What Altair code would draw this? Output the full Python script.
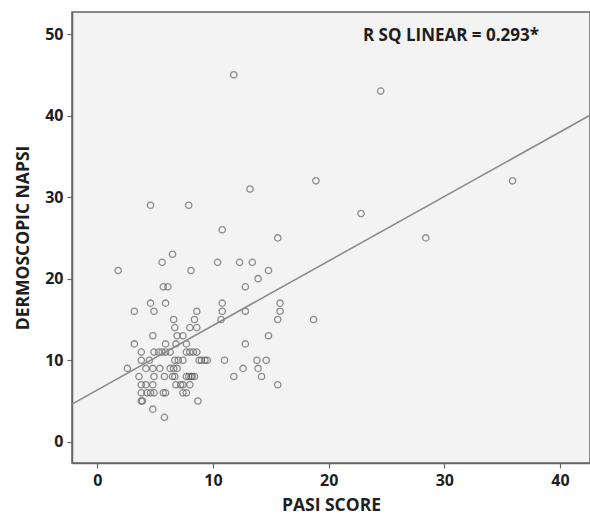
import altair as alt
import pandas as pd

pasi = [11.8, 24.5, 18.9, 13.2, 35.9, 4.6, 7.9, 22.8, 10.8, 15.6, 28.4, 6.5, 5.6, 10.4, 12.3, 13.4,
        1.8, 8.1, 14.8, 13.9, 5.7, 6.1, 12.8, 4.6, 5.9, 10.8, 15.8, 3.2, 4.9, 8.6, 10.8, 12.8, 15.8,
        6.6, 8.4, 10.7, 15.6, 18.7, 6.7, 8.0, 8.6, 4.8, 6.9, 7.4, 14.8, 3.2, 5.9, 6.8, 7.7, 12.8,
        3.8, 4.9, 5.3, 5.6, 5.9, 6.3, 7.7, 8.0, 8.3, 8.6,
        3.8, 4.5, 6.7, 7.0, 7.4, 8.8, 9.0, 9.3, 9.5, 11.0, 13.8, 14.6,
        2.6, 4.2, 4.8, 5.4, 6.3, 6.6, 6.9, 12.6, 13.9,
        3.6, 4.9, 5.8, 6.5, 6.7, 7.7, 7.9, 8.1, 8.2, 8.4, 11.8, 14.2,
        3.8, 4.2, 4.8, 6.8, 7.2, 7.4, 8.0, 15.6,
        3.8, 4.3, 4.6, 4.9, 5.7, 5.9, 7.4, 7.7,
        3.8, 3.9, 8.7,
        4.8,
        5.8]
napsi = [45, 43, 32, 31, 32, 29, 29, 28, 26, 25, 25, 23, 22, 22, 22, 22,
         21, 21, 21, 20, 19, 19, 19, 17, 17, 17, 17, 16, 16, 16, 16, 16, 16,
         15, 15, 15, 15, 15, 14, 14, 14, 13, 13, 13, 13, 12, 12, 12, 12, 12,
         11, 11, 11, 11, 11, 11, 11, 11, 11, 11,
         10, 10, 10, 10, 10, 10, 10, 10, 10, 10, 10, 10,
         9, 9, 9, 9, 9, 9, 9, 9, 9,
         8, 8, 8, 8, 8, 8, 8, 8, 8, 8, 8, 8,
         7, 7, 7, 7, 7, 7, 7, 7,
         6, 6, 6, 6, 6, 6, 6, 6,
         5, 5, 5,
         4,
         3]
x_ticks = [0, 10, 20, 30, 40]
y_ticks = [0, 10, 20, 30, 40, 50]
annotation = ["R SQ LINEAR = 0.293*"]

df = pd.DataFrame({"pasi": pasi, "napsi": napsi})

FONT = "Open Sans"
xdom = [-2.19, 42.6]
ydom = [-2.6, 52.7]

xs = alt.Scale(domain=xdom, nice=False, zero=False)
ys = alt.Scale(domain=ydom, nice=False, zero=False)

common = dict(grid=False, labelFont=FONT, titleFont=FONT,
              labelFontSize=16, titleFontSize=17.5, labelFontWeight="bold", titleFontWeight="bold",
              labelColor="#1e1e1e", titleColor="#1e1e1e", domainColor="#666", domainWidth=1.5,
              tickColor="#666", tickSize=5, tickWidth=1.2, labelPadding=4)
x_axis = alt.Axis(values=x_ticks, title="PASI SCORE", titlePadding=8, **common)
y_axis = alt.Axis(values=y_ticks, title="DERMOSCOPIC NAPSI", titlePadding=12, **common)

points = alt.Chart(df).mark_point(shape="circle", filled=False, size=40, strokeWidth=1.3,
                                  color="#606060", clip=True).encode(
    x=alt.X("pasi:Q", scale=xs, axis=x_axis),
    y=alt.Y("napsi:Q", scale=ys, axis=y_axis),
)

line = alt.Chart(df).transform_regression("pasi", "napsi", extent=xdom).mark_line(
    color="#8c8c8c", strokeWidth=1.6, clip=True).encode(
    x=alt.X("pasi:Q", scale=xs),
    y=alt.Y("napsi:Q", scale=ys),
)

text = alt.Chart(pd.DataFrame({"label": annotation})).mark_text(
    font=FONT, fontSize=17, fontWeight="bold", color="#1e1e1e", align="right", baseline="middle").encode(
    x=alt.value(467),
    y=alt.value(24),
    text="label:N",
)

chart = alt.layer(points, line, text).properties(
    width=518, height=451,
    padding={"left": 72, "top": 12, "right": 0, "bottom": 59},
    autosize=alt.AutoSizeParams(type="none"),
    background="white",
).configure_view(fill="#f2f3f2", stroke="#666", strokeWidth=1.5)

chart.save("out.html", embed_options={"renderer": "svg", "actions": False})
